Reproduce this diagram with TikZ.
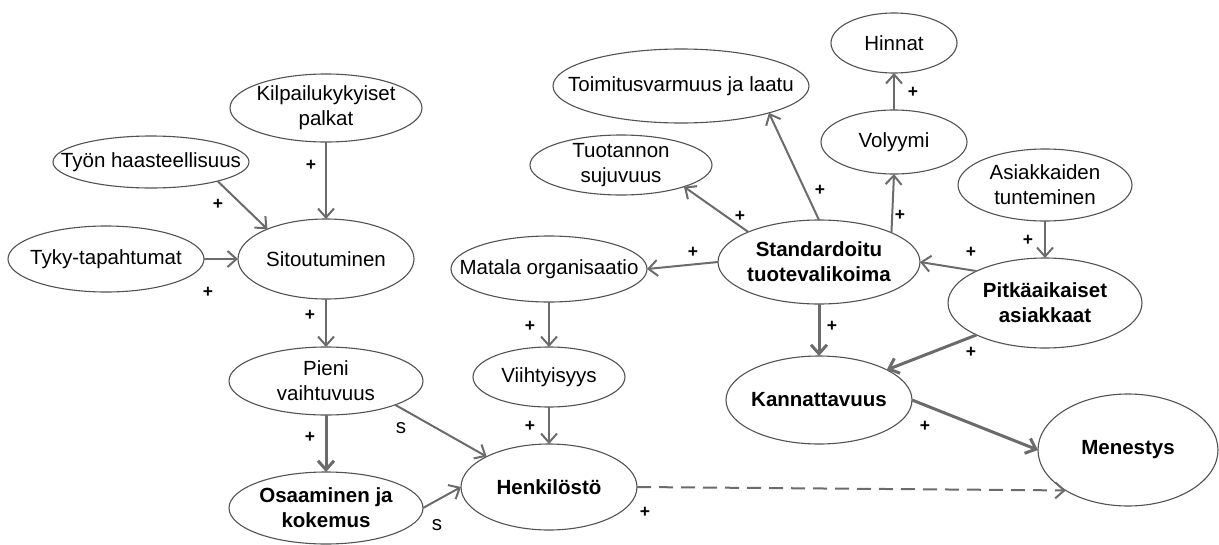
\documentclass[tikz,border=0pt]{standalone}
\usepackage{fontspec}
\setmainfont{Liberation Sans}
\usetikzlibrary{arrows.meta,shapes.geometric}

\begin{document}
\begin{tikzpicture}[x=1pt,y=-1pt,
  bub/.style={ellipse, draw=black!68, line width=1.1pt, fill=white, inner sep=0pt, outer sep=0pt},
  txt/.style={align=center, font=\fontsize{20.5}{25}\selectfont, text=black, inner sep=0pt},
  btxt/.style={txt, font=\fontsize{20.5}{25}\selectfont\bfseries},
  link/.style={draw=black!58, line width=2pt, -{Straight Barb[length=9pt,width=16pt]}},
  heavy/.style={link, line width=3pt},
  plus/.style={font=\fontsize{17.5}{17.5}\selectfont\bfseries, inner sep=0pt},
  sgn/.style={font=\fontsize{20.5}{20.5}\selectfont, inner sep=0pt},
]
\useasboundingbox (0,0) rectangle (1219,544);

% ---- staff side ----
\node[bub, minimum width=192pt, minimum height=68pt, label={[txt]center:{Kilpailukykyiset\\palkat}}] (kil) at (326,108) {};
\node[bub, minimum width=196pt, minimum height=52pt, label={[txt]center:{Työn haasteellisuus}}] (tyon) at (151,162) {};
\node[bub, minimum width=196pt, minimum height=66pt, label={[txt]center:{Tyky-tapahtumat}}] (tyky) at (106,259) {};
\node[bub, minimum width=176pt, minimum height=80pt, label={[txt]center:{Sitoutuminen}}] (sit) at (326,259) {};
\node[bub, minimum width=194pt, minimum height=68pt, label={[txt]center:{Pieni\\vaihtuvuus}}] (pieni) at (326,381) {};
\node[bub, minimum width=194pt, minimum height=72pt, label={[btxt]center:{Osaaminen ja\\kokemus}}] (osaa) at (326,508) {};
\node[bub, minimum width=176pt, minimum height=86pt, label={[btxt]center:{Henkilöstö}}] (henk) at (549,487) {};
\node[bub, minimum width=152pt, minimum height=60pt, label={[txt]center:{Viihtyisyys}}] (viih) at (549,377) {};
\node[bub, minimum width=196pt, minimum height=66pt, label={[txt]center:{Matala organisaatio}}] (mat) at (549,269) {};

% ---- product and customer side ----
\node[bub, minimum width=182pt, minimum height=60pt, label={[txt]center:{Tuotannon\\sujuvuus}}] (tuot) at (621,165) {};
\node[bub, minimum width=256pt, minimum height=74pt, label={[txt]center:{Toimitusvarmuus ja laatu}}] (toim) at (681,86) {};
\node[bub, minimum width=202pt, minimum height=84pt, label={[btxt]center:{Standardoitu\\tuotevalikoima}}] (std) at (819,262) {};
\node[bub, minimum width=126pt, minimum height=60pt, label={[txt]center:{Hinnat}}] (hin) at (894,43) {};
\node[bub, minimum width=146pt, minimum height=64pt, label={[txt]center:{Volyymi}}] (vol) at (894,142) {};
\node[bub, minimum width=174pt, minimum height=72pt, label={[txt]center:{Asiakkaiden\\tunteminen}}] (asi) at (1045,185) {};
\node[bub, minimum width=194pt, minimum height=90pt, label={[btxt]center:{Pitkäaikaiset\\asiakkaat}}] (pit) at (1045,303) {};
\node[bub, minimum width=186pt, minimum height=88pt, label={[btxt]center:{Kannattavuus}}] (kann) at (819,400) {};
\node[bub, minimum width=180pt, minimum height=112pt, label={[btxt]center:{Menestys}}] (mene) at (1128,450) {};

% ---- influences ----
\draw[link] (kil.south) -- (sit.north);
\draw[link] (tyon.-16) -- (sit.153);
\draw[link] (tyky) -- (sit);
\draw[link] (sit.south) -- (pieni.north);
\draw[heavy] (pieni.south) -- (osaa.north);
\draw[link] (pieni.-19) -- (henk.154);
\draw[link] (osaa.east) -- (henk.west);
\draw[link] (viih.south) -- (henk.north);
\draw[link] (mat.south) -- (viih.north);
\draw[link, dash pattern=on 14pt off 8pt] (henk.east) -- (mene.213);
\draw[link] (std.west) -- (mat.east);
\draw[link] (std.157) -- (tuot.-19);
\draw[link] (std.north) -- (toim.-17);
\draw[link] (std.22) -- (vol.south);
\draw[link] (vol.north) -- (hin.south);
\draw[link] (asi.south) -- (pit.north);
\draw[link] (pit.155) -- (std.east);
\draw[heavy] (pit.205) -- (kann.24);
\draw[heavy] (std.south) -- (kann.north);
\draw[heavy] (kann.east) -- (mene.west);

% ---- signs ----
\node[plus] (p1) at (311,165) {+};
\node[plus] (p2) at (218,204) {+};
\node[plus] (p3) at (208,292) {+};
\node[plus] (p4) at (310,315) {+};
\node[plus] (p5) at (310,437) {+};
\node[sgn] (s1) at (401,428) {s};
\node[sgn] (s2) at (437,525) {s};
\node[plus] (p6) at (530,426) {+};
\node[plus] (p7) at (530,326) {+};
\node[plus] (p8) at (645,512) {+};
\node[plus] (p9) at (693,252) {+};
\node[plus] (p10) at (740,216) {+};
\node[plus] (p11) at (820,190) {+};
\node[plus] (p12) at (900,215) {+};
\node[plus] (p13) at (913,92) {+};
\node[plus] (p14) at (1028,240) {+};
\node[plus] (p15) at (971,252) {+};
\node[plus] (p16) at (971,352) {+};
\node[plus] (p17) at (832,326) {+};
\node[plus] (p18) at (925,426) {+};
\end{tikzpicture}
\end{document}
